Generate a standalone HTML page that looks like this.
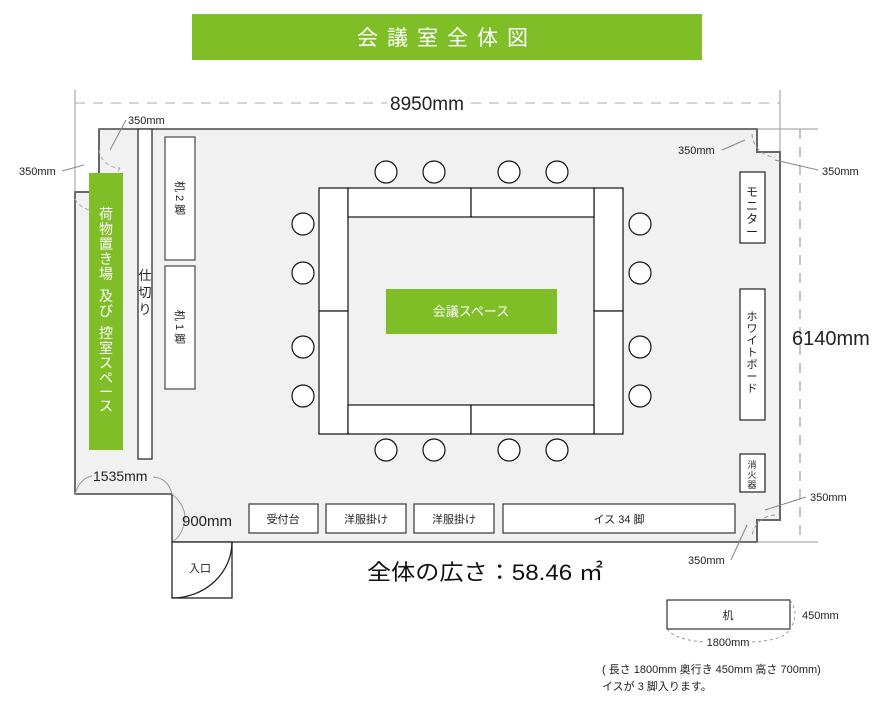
<!DOCTYPE html>
<html><head><meta charset="utf-8"><style>
html,body{margin:0;padding:0;background:#fff;}
svg{display:block;font-family:"Liberation Sans","Noto Sans CJK JP",sans-serif;}
</style></head><body>
<svg width="894" height="709" viewBox="0 0 894 709" xmlns="http://www.w3.org/2000/svg">
<rect x="192" y="14" width="510" height="46" fill="#80be28"/>
<text x="447" y="45" font-size="21" fill="#fff" text-anchor="middle" letter-spacing="9">会議室全体図</text>

<!-- guide lines -->
<line x1="75" y1="90" x2="75" y2="192" stroke="#bbb" stroke-width="1.5"/>
<line x1="780" y1="90" x2="780" y2="152" stroke="#bbb" stroke-width="1.5"/>
<line x1="75" y1="103" x2="780" y2="103" stroke="#aaa" stroke-dasharray="10,8"/>
<text x="427" y="110" font-size="19" fill="#222" text-anchor="middle" style="paint-order:stroke" stroke="#fff" stroke-width="8">8950mm</text>
<line x1="752" y1="129" x2="818" y2="129" stroke="#999"/>
<line x1="752" y1="542" x2="818" y2="542" stroke="#999"/>
<line x1="800" y1="129" x2="800" y2="542" stroke="#888" stroke-dasharray="10,8"/>
<text x="792" y="345" font-size="20" fill="#222">6140mm</text>

<!-- room -->
<path d="M99,129 L757,129 L757,152 L780,152 L780,520 L757,520 L757,542 L172,542 L172,494 L75,494 L75,192 L99,192 Z" fill="#f1f1f1" stroke="#222" stroke-width="1.3"/>
<path d="M99,129 L99,192 L75,192 M757,129 L757,152 L780,152 L780,520 L757,520 L757,542" fill="none" stroke="#666" stroke-width="2"/>

<!-- corner dims -->
<path d="M99,150 A21,21 0 0 0 120,168 M75,199 A21,21 0 0 0 96,210" fill="none" stroke="#aaa" stroke-dasharray="4,3"/>
<path d="M120,168 Q110,185 96,210" fill="none" stroke="#aaa" stroke-dasharray="4,3"/>
<path d="M752,134 A24,24 0 0 0 775,157" fill="none" stroke="#999" stroke-dasharray="4,3"/>
<path d="M775,515 A24,24 0 0 0 752,537" fill="none" stroke="#999" stroke-dasharray="4,3"/>
<line x1="110" y1="150" x2="126" y2="120" stroke="#888"/>
<text x="128" y="124" font-size="11" fill="#222">350mm</text>
<line x1="62" y1="171" x2="84" y2="165" stroke="#888"/>
<text x="19" y="175" font-size="11" fill="#222">350mm</text>
<line x1="722" y1="150" x2="745" y2="140" stroke="#888"/>
<text x="678" y="154" font-size="11" fill="#222">350mm</text>
<line x1="775" y1="160" x2="818" y2="170" stroke="#888"/>
<text x="822" y="175" font-size="11" fill="#222">350mm</text>
<line x1="765" y1="510" x2="806" y2="497" stroke="#888"/>
<text x="810" y="501" font-size="11" fill="#222">350mm</text>
<line x1="731" y1="560" x2="747" y2="525" stroke="#888"/>
<text x="688" y="564" font-size="11" fill="#222">350mm</text>
<path d="M75,494 Q80,478 92,476 M153,477 Q168,478 172,494 Q185,505 185,518 Q183,536 172,542" fill="none" stroke="#999"/>
<text x="93" y="481" font-size="14" fill="#222">1535mm</text>
<text x="182" y="526" font-size="15" fill="#222">900mm</text>

<!-- door -->
<rect x="172" y="542" width="60" height="56" fill="#fff" stroke="#222" stroke-width="1.3"/>
<path d="M232,542 A60,56 0 0 1 172,598" fill="none" stroke="#222" stroke-width="1.3"/>
<text x="200" y="572" font-size="11" fill="#222" text-anchor="middle">入口</text>

<!-- left side -->
<rect x="89" y="173" width="34" height="277" fill="#80be28"/>
<g font-size="14" fill="#fff" text-anchor="middle">
<text x="106" y="219">荷</text><text x="106" y="234">物</text><text x="106" y="249">置</text><text x="106" y="264">き</text><text x="106" y="279">場</text>
<text x="106" y="301">及</text><text x="106" y="316">び</text>
<text x="106" y="338">控</text><text x="106" y="353">室</text><text x="106" y="368">ス</text><text x="106" y="383">ペ</text><text x="106" y="397">ー</text><text x="106" y="411">ス</text>
</g>
<rect x="138" y="129" width="14" height="330" fill="#fff" stroke="#222" stroke-width="1.2"/>
<g font-size="13" fill="#222" text-anchor="middle">
<text x="145" y="280">仕</text><text x="145" y="297">切</text><text x="145" y="314">り</text>
</g>
<rect x="165" y="137" width="30" height="123" fill="#fff" stroke="#555" stroke-width="1.3"/>
<text transform="translate(176,198) rotate(90)" font-size="11" fill="#222" text-anchor="middle">机 2 脚</text>
<rect x="165" y="266" width="30" height="123" fill="#fff" stroke="#555" stroke-width="1.3"/>
<text transform="translate(176,327) rotate(90)" font-size="11" fill="#222" text-anchor="middle">机 1 脚</text>

<!-- table -->
<g fill="#fff" stroke="#111" stroke-width="1.2">
<rect x="319" y="188" width="29" height="123"/><rect x="319" y="311" width="29" height="123"/>
<rect x="594" y="188" width="29" height="123"/><rect x="594" y="311" width="29" height="123"/>
<rect x="348" y="188" width="123" height="29"/><rect x="471" y="188" width="123" height="29"/>
<rect x="348" y="405" width="123" height="29"/><rect x="471" y="405" width="123" height="29"/>
<circle cx="386" cy="172" r="11"/><circle cx="434" cy="172" r="11"/><circle cx="509" cy="172" r="11"/><circle cx="557" cy="172" r="11"/>
<circle cx="386" cy="450" r="11"/><circle cx="434" cy="450" r="11"/><circle cx="509" cy="450" r="11"/><circle cx="557" cy="450" r="11"/>
<circle cx="303" cy="224" r="11"/><circle cx="303" cy="273" r="11"/><circle cx="303" cy="347" r="11"/><circle cx="303" cy="396" r="11"/>
<circle cx="640" cy="224" r="11"/><circle cx="640" cy="273" r="11"/><circle cx="640" cy="347" r="11"/><circle cx="640" cy="396" r="11"/>
</g>
<rect x="386" y="289" width="171" height="45" fill="#80be28"/>
<text x="471" y="316" font-size="13" fill="#fff" text-anchor="middle">会議スペース</text>

<!-- right side -->
<g fill="#fff" stroke="#222" stroke-width="1.2">
<rect x="740" y="172" width="25" height="71"/>
<rect x="740" y="289" width="25" height="131"/>
<rect x="740" y="454" width="25" height="38"/>
</g>
<g font-size="12" fill="#222" text-anchor="middle">
<text x="752" y="196">モ</text><text x="752" y="210">ニ</text><text x="752" y="223">タ</text><text x="752" y="236">ー</text>
</g>
<g font-size="11" fill="#222" text-anchor="middle">
<text x="752" y="320">ホ</text><text x="752" y="332">ワ</text><text x="752" y="344">イ</text><text x="752" y="356">ト</text><text x="752" y="368">ボ</text><text x="752" y="380">ー</text><text x="752" y="392">ド</text>
</g>
<g font-size="9" fill="#222" text-anchor="middle">
<text x="752" y="468">消</text><text x="752" y="478">火</text><text x="752" y="488">器</text>
</g>

<!-- bottom items -->
<g fill="#fff" stroke="#444" stroke-width="1.3">
<rect x="249" y="504" width="69" height="29"/><rect x="326" y="504" width="80" height="29"/>
<rect x="414" y="504" width="80" height="29"/><rect x="503" y="504" width="232" height="29"/>
</g>
<g font-size="11" fill="#222" text-anchor="middle">
<text x="283" y="523">受付台</text><text x="366" y="523">洋服掛け</text><text x="454" y="523">洋服掛け</text><text x="619" y="523">イス 34 脚</text>
</g>

<text x="367" y="580" font-size="22" fill="#111" textLength="236" lengthAdjust="spacingAndGlyphs">全体の広さ：58.46 ㎡</text>

<!-- desk legend -->
<rect x="667" y="600" width="123" height="29" fill="#fff" stroke="#333" stroke-width="1.2"/>
<text x="728" y="619" font-size="11" fill="#222" text-anchor="middle">机</text>
<path d="M790,600 Q800,614 790,629" fill="none" stroke="#999" stroke-dasharray="3,3"/>
<text x="802" y="619" font-size="11" fill="#222">450mm</text>
<path d="M667,629 Q675,640 705,642 M752,642 Q785,640 790,629" fill="none" stroke="#999" stroke-dasharray="3,3"/>
<text x="728" y="646" font-size="11" fill="#222" text-anchor="middle">1800mm</text>
<text x="602" y="673" font-size="11" fill="#222">( 長さ 1800mm 奥行き 450mm 高さ 700mm)</text>
<text x="602" y="690" font-size="11" fill="#222">イスが 3 脚入ります。</text>
</svg>
</body></html>
